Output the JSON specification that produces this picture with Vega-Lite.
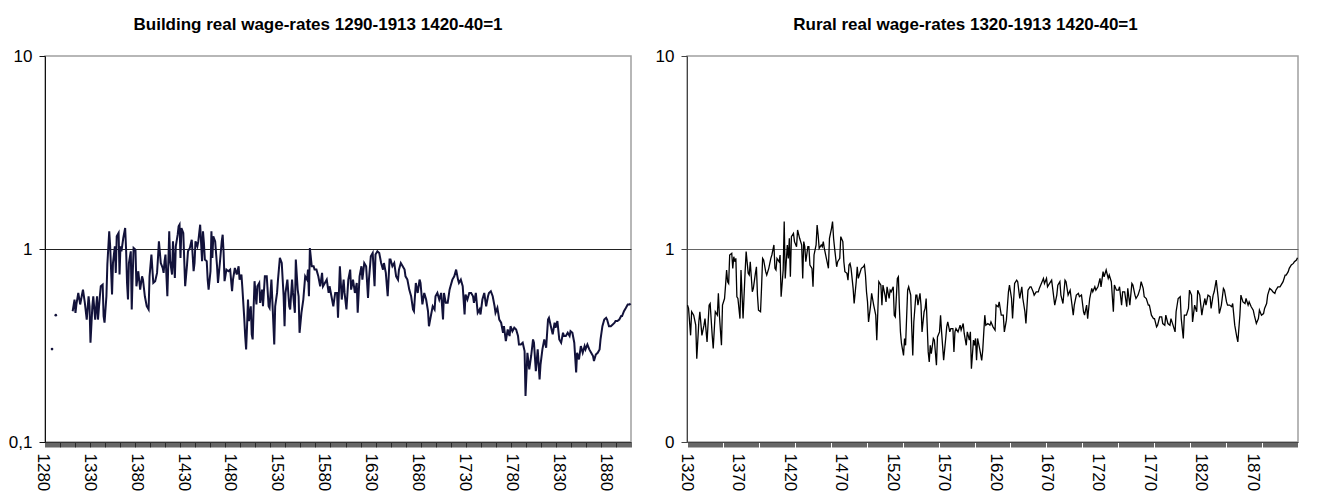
{
"$schema":"https://vega.github.io/schema/vega-lite/v6.json",
"background":"white",
"padding":{"left":7,"top":15,"right":0,"bottom":0},
"spacing":56,
"bounds":"flush",
"config":{
"font":"Liberation Sans",
"view":{"stroke":"#a0a0a0","strokeWidth":1.5},
"axis":{"labelFont":"Liberation Sans","labelFontSize":17,"labelColor":"#000","title":null},
"title":{"font":"Liberation Sans","fontSize":17,"fontWeight":"bold","color":"#000","anchor":"middle","offset":13}
},
"datasets":{
"building":[
{"year":1287,"wage":0.303},{"year":1291,"wage":0.454},
{"year":1309,"wage":0.476},{"year":1311,"wage":0.547},{"year":1312,"wage":0.467},{"year":1313,"wage":0.516},{"year":1315,"wage":0.592},{"year":1317,"wage":0.516},{"year":1319,"wage":0.581},{"year":1320,"wage":0.616},{"year":1322,"wage":0.526},{"year":1324,"wage":0.431},{"year":1326,"wage":0.569},{"year":1327,"wage":0.505},{"year":1328,"wage":0.327},{"year":1330,"wage":0.505},{"year":1331,"wage":0.569},{"year":1333,"wage":0.431},{"year":1335,"wage":0.569},{"year":1336,"wage":0.431},{"year":1338,"wage":0.569},{"year":1339,"wage":0.641},{"year":1341,"wage":0.654},{"year":1342,"wage":0.449},{"year":1343,"wage":0.415},{"year":1345,"wage":0.569},{"year":1346,"wage":0.83},{"year":1348,"wage":1.234},{"year":1349,"wage":1.032},{"year":1351,"wage":0.581},{"year":1352,"wage":0.846},{"year":1354,"wage":1.032},{"year":1355,"wage":0.752},{"year":1356,"wage":1.163},{"year":1358,"wage":1.21},{"year":1359,"wage":0.737},{"year":1360,"wage":1.032},{"year":1361,"wage":0.973},{"year":1363,"wage":1.14},{"year":1365,"wage":1.284},{"year":1366,"wage":0.992},{"year":1367,"wage":0.667},{"year":1368,"wage":0.547},{"year":1369,"wage":0.846},{"year":1371,"wage":0.973},{"year":1372,"wage":0.486},{"year":1373,"wage":0.722},{"year":1374,"wage":1.012},{"year":1376,"wage":0.992},{"year":1377,"wage":0.641},{"year":1379,"wage":0.767},{"year":1381,"wage":0.616},{"year":1383,"wage":0.722},{"year":1384,"wage":0.694},{"year":1386,"wage":0.569},{"year":1388,"wage":0.505},{"year":1390,"wage":0.486},{"year":1391,"wage":0.722},{"year":1393,"wage":0.935},{"year":1395,"wage":0.667},{"year":1397,"wage":0.681},{"year":1399,"wage":0.752},{"year":1400,"wage":0.899},{"year":1401,"wage":1.095},{"year":1403,"wage":0.846},{"year":1405,"wage":0.798},{"year":1406,"wage":0.752},{"year":1407,"wage":0.864},{"year":1408,"wage":0.935},{"year":1410,"wage":0.569},{"year":1412,"wage":1.234},{"year":1413,"wage":0.864},{"year":1415,"wage":0.737},{"year":1416,"wage":1.095},{"year":1417,"wage":0.864},{"year":1418,"wage":0.708},{"year":1419,"wage":1.032},{"year":1421,"wage":1.186},{"year":1422,"wage":1.31},{"year":1423,"wage":1.336},{"year":1424,"wage":0.899},{"year":1425,"wage":1.284},{"year":1427,"wage":1.21},{"year":1429,"wage":0.641},{"year":1431,"wage":0.83},{"year":1432,"wage":0.973},{"year":1434,"wage":1.012},{"year":1436,"wage":1.117},{"year":1438,"wage":0.767},{"year":1439,"wage":0.846},{"year":1440,"wage":1.095},{"year":1442,"wage":1.032},{"year":1443,"wage":1.095},{"year":1445,"wage":1.336},{"year":1447,"wage":0.864},{"year":1448,"wage":1.234},{"year":1449,"wage":1.074},{"year":1450,"wage":0.881},{"year":1452,"wage":0.864},{"year":1453,"wage":0.694},{"year":1454,"wage":0.616},{"year":1456,"wage":0.767},{"year":1457,"wage":1.234},{"year":1458,"wage":0.899},{"year":1459,"wage":1.163},{"year":1461,"wage":1.095},{"year":1463,"wage":0.814},{"year":1464,"wage":0.667},{"year":1466,"wage":0.846},{"year":1468,"wage":1.095},{"year":1469,"wage":1.186},{"year":1470,"wage":0.953},{"year":1471,"wage":0.681},{"year":1473,"wage":0.782},{"year":1475,"wage":0.767},{"year":1477,"wage":0.782},{"year":1479,"wage":0.604},{"year":1480,"wage":0.694},{"year":1482,"wage":0.798},{"year":1484,"wage":0.737},{"year":1486,"wage":0.814},{"year":1487,"wage":0.694},{"year":1489,"wage":0.737},{"year":1490,"wage":0.629},{"year":1492,"wage":0.44},{"year":1493,"wage":0.354},{"year":1494,"wage":0.302},{"year":1495,"wage":0.398},{"year":1496,"wage":0.547},{"year":1497,"wage":0.423},{"year":1499,"wage":0.505},{"year":1500,"wage":0.361},{"year":1501,"wage":0.34},{"year":1502,"wage":0.495},{"year":1503,"wage":0.681},{"year":1505,"wage":0.516},{"year":1506,"wage":0.641},{"year":1508,"wage":0.667},{"year":1509,"wage":0.526},{"year":1511,"wage":0.616},{"year":1512,"wage":0.505},{"year":1514,"wage":0.722},{"year":1516,"wage":0.722},{"year":1518,"wage":0.505},{"year":1519,"wage":0.495},{"year":1521,"wage":0.694},{"year":1523,"wage":0.415},{"year":1524,"wage":0.32},{"year":1525,"wage":0.505},{"year":1527,"wage":0.592},{"year":1528,"wage":0.694},{"year":1530,"wage":0.899},{"year":1532,"wage":0.846},{"year":1534,"wage":0.569},{"year":1535,"wage":0.398},{"year":1536,"wage":0.592},{"year":1538,"wage":0.694},{"year":1540,"wage":0.505},{"year":1541,"wage":0.486},{"year":1543,"wage":0.694},{"year":1544,"wage":0.592},{"year":1546,"wage":0.467},{"year":1547,"wage":0.881},{"year":1549,"wage":0.616},{"year":1550,"wage":0.569},{"year":1551,"wage":0.368},{"year":1553,"wage":0.467},{"year":1555,"wage":0.547},{"year":1557,"wage":0.722},{"year":1559,"wage":0.694},{"year":1560,"wage":0.782},{"year":1561,"wage":0.569},{"year":1562,"wage":1.012},{"year":1564,"wage":0.814},{"year":1566,"wage":0.814},{"year":1567,"wage":0.782},{"year":1569,"wage":0.782},{"year":1571,"wage":0.722},{"year":1573,"wage":0.641},{"year":1575,"wage":0.752},{"year":1576,"wage":0.641},{"year":1578,"wage":0.667},{"year":1580,"wage":0.694},{"year":1582,"wage":0.592},{"year":1583,"wage":0.641},{"year":1585,"wage":0.569},{"year":1587,"wage":0.505},{"year":1589,"wage":0.592},{"year":1591,"wage":0.592},{"year":1592,"wage":0.44},
{"year":1594,"wage":0.814},{"year":1596,"wage":0.547},{"year":1598,"wage":0.694},{"year":1599,"wage":0.592},{"year":1601,"wage":0.486},{"year":1603,"wage":0.694},{"year":1605,"wage":0.782},{"year":1606,"wage":0.616},{"year":1608,"wage":0.694},{"year":1610,"wage":0.592},{"year":1612,"wage":0.667},{"year":1613,"wage":0.467},{"year":1615,"wage":0.722},{"year":1617,"wage":0.814},{"year":1618,"wage":0.694},{"year":1620,"wage":0.846},{"year":1622,"wage":0.814},{"year":1624,"wage":0.558},{"year":1625,"wage":0.694},{"year":1627,"wage":0.916},{"year":1629,"wage":0.953},{"year":1631,"wage":0.641},{"year":1632,"wage":0.935},{"year":1634,"wage":0.973},{"year":1636,"wage":0.953},{"year":1638,"wage":0.846},{"year":1640,"wage":0.782},{"year":1641,"wage":0.846},{"year":1643,"wage":0.752},{"year":1645,"wage":0.569},{"year":1647,"wage":0.881},{"year":1648,"wage":0.881},{"year":1650,"wage":0.814},{"year":1652,"wage":0.846},{"year":1654,"wage":0.722},{"year":1656,"wage":0.694},{"year":1657,"wage":0.782},{"year":1659,"wage":0.846},{"year":1661,"wage":0.814},{"year":1663,"wage":0.782},{"year":1664,"wage":0.722},{"year":1666,"wage":0.694},{"year":1668,"wage":0.616},{"year":1670,"wage":0.569},{"year":1672,"wage":0.486},{"year":1673,"wage":0.476},{"year":1675,"wage":0.667},{"year":1677,"wage":0.592},{"year":1679,"wage":0.694},{"year":1680,"wage":0.667},{"year":1682,"wage":0.516},{"year":1684,"wage":0.592},{"year":1686,"wage":0.547},{"year":1688,"wage":0.476},{"year":1689,"wage":0.398},{"year":1691,"wage":0.449},{"year":1693,"wage":0.505},{"year":1695,"wage":0.486},{"year":1696,"wage":0.569},{"year":1698,"wage":0.592},{"year":1700,"wage":0.547},{"year":1702,"wage":0.592},{"year":1704,"wage":0.431},{"year":1705,"wage":0.592},{"year":1707,"wage":0.526},{"year":1709,"wage":0.526},{"year":1711,"wage":0.616},{"year":1712,"wage":0.641},{"year":1714,"wage":0.694},{"year":1716,"wage":0.722},{"year":1718,"wage":0.782},{"year":1720,"wage":0.694},{"year":1721,"wage":0.667},{"year":1723,"wage":0.694},{"year":1725,"wage":0.641},{"year":1727,"wage":0.458},{"year":1728,"wage":0.581},{"year":1730,"wage":0.547},{"year":1732,"wage":0.592},{"year":1734,"wage":0.592},{"year":1736,"wage":0.569},{"year":1737,"wage":0.526},{"year":1739,"wage":0.592},{"year":1741,"wage":0.467},{"year":1743,"wage":0.486},{"year":1744,"wage":0.458},{"year":1746,"wage":0.547},{"year":1748,"wage":0.592},{"year":1750,"wage":0.505},{"year":1752,"wage":0.569},{"year":1753,"wage":0.592},{"year":1755,"wage":0.604},{"year":1757,"wage":0.569},{"year":1759,"wage":0.505},{"year":1760,"wage":0.467},{"year":1762,"wage":0.495},{"year":1764,"wage":0.431},{"year":1766,"wage":0.415},{"year":1768,"wage":0.368},{"year":1769,"wage":0.398},{"year":1771,"wage":0.333},{"year":1773,"wage":0.383},{"year":1775,"wage":0.354},{"year":1776,"wage":0.398},{"year":1778,"wage":0.375},{"year":1780,"wage":0.391},{"year":1782,"wage":0.383},{"year":1784,"wage":0.354},{"year":1785,"wage":0.32},{"year":1787,"wage":0.32},{"year":1789,"wage":0.327},{"year":1791,"wage":0.296},{"year":1792,"wage":0.173},{"year":1794,"wage":0.29},{"year":1796,"wage":0.238},{"year":1798,"wage":0.279},{"year":1800,"wage":0.34},{"year":1801,"wage":0.327},{"year":1803,"wage":0.233},{"year":1805,"wage":0.302},{"year":1807,"wage":0.211},{"year":1808,"wage":0.252},{"year":1810,"wage":0.302},{"year":1812,"wage":0.34},{"year":1814,"wage":0.308},{"year":1816,"wage":0.431},{"year":1817,"wage":0.44},{"year":1819,"wage":0.398},{"year":1821,"wage":0.361},{"year":1823,"wage":0.415},{"year":1824,"wage":0.391},{"year":1826,"wage":0.423},{"year":1828,"wage":0.34},{"year":1830,"wage":0.327},{"year":1832,"wage":0.368},{"year":1833,"wage":0.354},{"year":1835,"wage":0.354},{"year":1837,"wage":0.368},{"year":1839,"wage":0.354},{"year":1840,"wage":0.375},{"year":1842,"wage":0.368},{"year":1844,"wage":0.327},{"year":1846,"wage":0.229},{"year":1847,"wage":0.29},{"year":1849,"wage":0.268},{"year":1851,"wage":0.314},{"year":1853,"wage":0.29},{"year":1855,"wage":0.314},{"year":1856,"wage":0.302},{"year":1858,"wage":0.32},{"year":1860,"wage":0.302},{"year":1862,"wage":0.29},{"year":1864,"wage":0.279},{"year":1865,"wage":0.263},{"year":1867,"wage":0.284},{"year":1869,"wage":0.29},{"year":1871,"wage":0.302},{"year":1872,"wage":0.34},{"year":1874,"wage":0.398},{"year":1876,"wage":0.431},{"year":1878,"wage":0.44},{"year":1879,"wage":0.431},{"year":1881,"wage":0.398},{"year":1883,"wage":0.398},{"year":1885,"wage":0.406},{"year":1887,"wage":0.415},{"year":1888,"wage":0.423},{"year":1890,"wage":0.423},{"year":1892,"wage":0.431},{"year":1894,"wage":0.449},{"year":1895,"wage":0.449},{"year":1897,"wage":0.476},{"year":1899,"wage":0.495},{"year":1901,"wage":0.516},{"year":1903,"wage":0.516},{"year":1904,"wage":0.522}
],
"rural":[
{"year":1320,"wage":0.512},{"year":1321,"wage":0.492},{"year":1323,"wage":0.357},{"year":1324,"wage":0.473},{"year":1326,"wage":0.454},{"year":1328,"wage":0.403},{"year":1329,"wage":0.27},{"year":1331,"wage":0.419},{"year":1332,"wage":0.473},{"year":1334,"wage":0.357},{"year":1336,"wage":0.403},{"year":1337,"wage":0.436},{"year":1339,"wage":0.33},{"year":1341,"wage":0.512},{"year":1342,"wage":0.522},{"year":1344,"wage":0.357},{"year":1345,"wage":0.305},{"year":1347,"wage":0.473},{"year":1349,"wage":0.454},{"year":1350,"wage":0.589},{"year":1351,"wage":0.454},{"year":1353,"wage":0.317},{"year":1354,"wage":0.512},{"year":1356,"wage":0.554},{"year":1357,"wage":0.65},{"year":1358,"wage":0.778},{"year":1359,"wage":0.677},{"year":1360,"wage":0.663},{"year":1361,"wage":0.931},{"year":1363,"wage":0.95},{"year":1364,"wage":0.794},{"year":1365,"wage":0.912},{"year":1366,"wage":0.859},{"year":1367,"wage":0.894},{"year":1368,"wage":0.566},{"year":1369,"wage":0.554},{"year":1371,"wage":0.436},{"year":1372,"wage":0.778},{"year":1374,"wage":0.436},{"year":1376,"wage":0.763},{"year":1377,"wage":0.969},{"year":1379,"wage":0.748},{"year":1380,"wage":0.733},{"year":1381,"wage":0.859},{"year":1383,"wage":0.6},{"year":1384,"wage":0.625},{"year":1386,"wage":0.748},{"year":1387,"wage":0.809},{"year":1388,"wage":0.577},{"year":1389,"wage":0.482},{"year":1391,"wage":0.473},{"year":1392,"wage":0.637},{"year":1393,"wage":0.894},{"year":1394,"wage":0.877},{"year":1396,"wage":0.763},{"year":1397,"wage":0.733},{"year":1399,"wage":0.794},{"year":1400,"wage":0.842},{"year":1401,"wage":0.894},{"year":1402,"wage":0.931},{"year":1404,"wage":1.049},{"year":1405,"wage":0.794},{"year":1406,"wage":0.778},{"year":1407,"wage":0.894},{"year":1409,"wage":0.859},{"year":1410,"wage":0.931},{"year":1411,"wage":0.566},{"year":1413,"wage":0.778},{"year":1414,"wage":1.387},{"year":1415,"wage":0.704},{"year":1417,"wage":1.049},{"year":1418,"wage":0.894},{"year":1419,"wage":1.136},{"year":1420,"wage":0.718},{"year":1421,"wage":1.159},{"year":1423,"wage":1.206},{"year":1424,"wage":1.092},{"year":1426,"wage":1.028},{"year":1427,"wage":1.255},{"year":1429,"wage":1.136},{"year":1431,"wage":1.049},{"year":1432,"wage":0.704},{"year":1433,"wage":1.092},{"year":1434,"wage":1.028},{"year":1435,"wage":0.859},{"year":1437,"wage":1.028},{"year":1438,"wage":1.028},{"year":1439,"wage":0.826},{"year":1441,"wage":0.794},{"year":1442,"wage":0.637},{"year":1443,"wage":0.931},{"year":1445,"wage":1.049},{"year":1446,"wage":1.332},{"year":1447,"wage":1.182},{"year":1448,"wage":1.008},{"year":1450,"wage":1.049},{"year":1451,"wage":1.028},{"year":1452,"wage":1.092},{"year":1453,"wage":1.008},{"year":1455,"wage":0.894},{"year":1457,"wage":0.794},{"year":1458,"wage":1.136},{"year":1460,"wage":1.28},{"year":1461,"wage":1.387},{"year":1462,"wage":1.136},{"year":1463,"wage":1.008},{"year":1465,"wage":0.809},{"year":1466,"wage":0.859},{"year":1468,"wage":0.894},{"year":1469,"wage":1.159},{"year":1471,"wage":1.092},{"year":1472,"wage":0.859},{"year":1473,"wage":0.763},{"year":1475,"wage":0.748},{"year":1476,"wage":0.69},{"year":1477,"wage":0.826},{"year":1478,"wage":0.842},{"year":1479,"wage":0.794},{"year":1481,"wage":0.625},{"year":1482,"wage":0.522},{"year":1484,"wage":0.677},{"year":1485,"wage":0.809},{"year":1486,"wage":0.704},{"year":1487,"wage":0.733},{"year":1489,"wage":0.794},{"year":1491,"wage":0.809},{"year":1492,"wage":0.826},{"year":1493,"wage":0.733},{"year":1494,"wage":0.6},{"year":1495,"wage":0.532},{"year":1496,"wage":0.419},{"year":1498,"wage":0.512},{"year":1499,"wage":0.589},{"year":1501,"wage":0.512},{"year":1503,"wage":0.454},{"year":1504,"wage":0.337},{"year":1505,"wage":0.473},{"year":1506,"wage":0.677},{"year":1508,"wage":0.65},{"year":1509,"wage":0.512},{"year":1510,"wage":0.65},{"year":1512,"wage":0.577},{"year":1513,"wage":0.532},{"year":1514,"wage":0.637},{"year":1516,"wage":0.554},{"year":1517,"wage":0.612},{"year":1518,"wage":0.6},{"year":1520,"wage":0.637},{"year":1521,"wage":0.454},{"year":1522,"wage":0.445},{"year":1524,"wage":0.704},{"year":1525,"wage":0.718},{"year":1526,"wage":0.492},{"year":1527,"wage":0.372},{"year":1528,"wage":0.324},{"year":1530,"wage":0.281},{"year":1531,"wage":0.344},{"year":1532,"wage":0.317},{"year":1534,"wage":0.612},{"year":1535,"wage":0.637},{"year":1537,"wage":0.577},{"year":1538,"wage":0.387},{"year":1539,"wage":0.281},{"year":1540,"wage":0.419},{"year":1542,"wage":0.577},{"year":1543,"wage":0.577},{"year":1544,"wage":0.512},{"year":1546,"wage":0.589},{"year":1547,"wage":0.512},{"year":1548,"wage":0.372},{"year":1550,"wage":0.473},{"year":1551,"wage":0.492},{"year":1552,"wage":0.554},{"year":1554,"wage":0.293},{"year":1555,"wage":0.26},{"year":1556,"wage":0.317},{"year":1557,"wage":0.287},{"year":1559,"wage":0.344},{"year":1560,"wage":0.337},{"year":1562,"wage":0.25},{"year":1563,"wage":0.35},{"year":1565,"wage":0.372},{"year":1566,"wage":0.454},{"year":1567,"wage":0.372},{"year":1569,"wage":0.265},{"year":1571,"wage":0.344},{"year":1572,"wage":0.395},{"year":1573,"wage":0.419},{"year":1575,"wage":0.372},{"year":1576,"wage":0.387},{"year":1578,"wage":0.387},{"year":1579,"wage":0.293},{"year":1580,"wage":0.372},{"year":1581,"wage":0.387},{"year":1583,"wage":0.372},{"year":1585,"wage":0.403},{"year":1586,"wage":0.38},{"year":1588,"wage":0.411},{"year":1589,"wage":0.365},{"year":1591,"wage":0.317},{"year":1592,"wage":0.372},{"year":1594,"wage":0.337},{"year":1595,"wage":0.372},{"year":1596,"wage":0.24},{"year":1598,"wage":0.337},{"year":1599,"wage":0.317},{"year":1600,"wage":0.344},{"year":1601,"wage":0.265},
{"year":1602,"wage":0.344},{"year":1604,"wage":0.305},{"year":1606,"wage":0.265},{"year":1607,"wage":0.299},{"year":1609,"wage":0.454},{"year":1610,"wage":0.403},{"year":1612,"wage":0.411},{"year":1614,"wage":0.403},{"year":1615,"wage":0.419},{"year":1617,"wage":0.395},{"year":1619,"wage":0.38},{"year":1620,"wage":0.512},{"year":1622,"wage":0.502},{"year":1623,"wage":0.532},{"year":1625,"wage":0.454},{"year":1627,"wage":0.454},{"year":1628,"wage":0.372},{"year":1630,"wage":0.428},{"year":1632,"wage":0.6},{"year":1633,"wage":0.65},{"year":1635,"wage":0.554},{"year":1636,"wage":0.436},{"year":1638,"wage":0.663},{"year":1640,"wage":0.69},{"year":1641,"wage":0.677},{"year":1643,"wage":0.554},{"year":1645,"wage":0.637},{"year":1646,"wage":0.554},{"year":1648,"wage":0.473},{"year":1649,"wage":0.411},{"year":1651,"wage":0.612},{"year":1653,"wage":0.637},{"year":1654,"wage":0.637},{"year":1656,"wage":0.6},{"year":1657,"wage":0.577},{"year":1659,"wage":0.6},{"year":1661,"wage":0.6},{"year":1662,"wage":0.625},{"year":1664,"wage":0.663},{"year":1666,"wage":0.704},{"year":1667,"wage":0.663},{"year":1669,"wage":0.704},{"year":1670,"wage":0.637},{"year":1672,"wage":0.663},{"year":1674,"wage":0.69},{"year":1675,"wage":0.625},{"year":1677,"wage":0.512},{"year":1679,"wage":0.577},{"year":1680,"wage":0.65},{"year":1682,"wage":0.677},{"year":1683,"wage":0.577},{"year":1685,"wage":0.522},{"year":1687,"wage":0.69},{"year":1688,"wage":0.677},{"year":1690,"wage":0.577},{"year":1692,"wage":0.612},{"year":1693,"wage":0.554},{"year":1695,"wage":0.454},{"year":1696,"wage":0.512},{"year":1698,"wage":0.577},{"year":1700,"wage":0.589},{"year":1701,"wage":0.566},{"year":1703,"wage":0.577},{"year":1705,"wage":0.473},{"year":1706,"wage":0.454},{"year":1708,"wage":0.512},{"year":1709,"wage":0.436},{"year":1711,"wage":0.554},{"year":1713,"wage":0.625},{"year":1714,"wage":0.6},{"year":1716,"wage":0.637},{"year":1717,"wage":0.612},{"year":1719,"wage":0.637},{"year":1721,"wage":0.704},{"year":1722,"wage":0.637},{"year":1724,"wage":0.763},{"year":1725,"wage":0.718},{"year":1727,"wage":0.778},{"year":1729,"wage":0.704},{"year":1730,"wage":0.733},{"year":1732,"wage":0.677},{"year":1734,"wage":0.473},{"year":1735,"wage":0.65},{"year":1737,"wage":0.612},{"year":1739,"wage":0.612},{"year":1740,"wage":0.637},{"year":1742,"wage":0.512},{"year":1743,"wage":0.6},{"year":1745,"wage":0.6},{"year":1747,"wage":0.502},{"year":1748,"wage":0.625},{"year":1750,"wage":0.512},{"year":1752,"wage":0.663},{"year":1753,"wage":0.65},{"year":1755,"wage":0.577},{"year":1756,"wage":0.554},{"year":1758,"wage":0.577},{"year":1760,"wage":0.625},{"year":1761,"wage":0.677},{"year":1763,"wage":0.625},{"year":1764,"wage":0.566},{"year":1766,"wage":0.554},{"year":1768,"wage":0.512},{"year":1769,"wage":0.512},{"year":1771,"wage":0.454},{"year":1773,"wage":0.436},{"year":1774,"wage":0.436},{"year":1776,"wage":0.395},{"year":1777,"wage":0.403},{"year":1779,"wage":0.445},{"year":1781,"wage":0.445},{"year":1782,"wage":0.411},{"year":1784,"wage":0.403},{"year":1785,"wage":0.454},{"year":1787,"wage":0.411},{"year":1789,"wage":0.403},{"year":1790,"wage":0.436},{"year":1792,"wage":0.403},{"year":1794,"wage":0.372},{"year":1795,"wage":0.473},{"year":1797,"wage":0.554},{"year":1799,"wage":0.566},{"year":1800,"wage":0.436},{"year":1802,"wage":0.344},{"year":1803,"wage":0.454},{"year":1805,"wage":0.454},{"year":1807,"wage":0.492},{"year":1808,"wage":0.612},{"year":1810,"wage":0.577},{"year":1811,"wage":0.419},{"year":1813,"wage":0.512},{"year":1815,"wage":0.473},{"year":1816,"wage":0.612},{"year":1818,"wage":0.577},{"year":1820,"wage":0.454},{"year":1821,"wage":0.492},{"year":1823,"wage":0.554},{"year":1824,"wage":0.512},{"year":1826,"wage":0.577},{"year":1828,"wage":0.566},{"year":1829,"wage":0.492},{"year":1831,"wage":0.577},{"year":1832,"wage":0.6},{"year":1834,"wage":0.69},{"year":1836,"wage":0.554},{"year":1837,"wage":0.463},{"year":1839,"wage":0.512},{"year":1841,"wage":0.625},{"year":1842,"wage":0.612},{"year":1844,"wage":0.532},{"year":1845,"wage":0.512},{"year":1847,"wage":0.512},{"year":1849,"wage":0.502},{"year":1850,"wage":0.522},{"year":1852,"wage":0.403},{"year":1854,"wage":0.35},{"year":1855,"wage":0.33},{"year":1857,"wage":0.454},{"year":1858,"wage":0.577},{"year":1860,"wage":0.532},{"year":1862,"wage":0.522},{"year":1863,"wage":0.554},{"year":1865,"wage":0.512},{"year":1866,"wage":0.532},{"year":1868,"wage":0.502},{"year":1870,"wage":0.482},{"year":1871,"wage":0.454},{"year":1873,"wage":0.411},{"year":1875,"wage":0.436},{"year":1876,"wage":0.482},{"year":1878,"wage":0.454},{"year":1880,"wage":0.463},{"year":1881,"wage":0.492},{"year":1883,"wage":0.522},{"year":1884,"wage":0.577},{"year":1886,"wage":0.625},{"year":1888,"wage":0.612},{"year":1889,"wage":0.6},{"year":1891,"wage":0.589},{"year":1892,"wage":0.612},{"year":1894,"wage":0.637},{"year":1896,"wage":0.637},{"year":1897,"wage":0.65},{"year":1899,"wage":0.677},{"year":1901,"wage":0.733},{"year":1902,"wage":0.733},{"year":1904,"wage":0.763},{"year":1905,"wage":0.794},{"year":1907,"wage":0.826},{"year":1909,"wage":0.842},{"year":1910,"wage":0.859},{"year":1912,"wage":0.877},{"year":1913,"wage":0.901}
]
},
"hconcat":[
{
"width":586,"height":386,
"title":{"text":"Building real wage-rates 1290-1913 1420-40=1","dx":-20},
"data":{"name":"building"},
"encoding":{
"x":{"field":"year","type":"quantitative","scale":{"domain":[1279.5,1904.5],"nice":false,"zero":false},
"axis":{"tickCount":625,"format":"d","labelExpr":"datum.value % 50 === 30 ? datum.label : ''","labelAngle":90,"labelOverlap":false,"labelFlush":false,"labelBound":false,"labelOffset":-3,"tickSize":5,"tickWidth":0.6,"tickColor":"#000","domainColor":"#333","labelPadding":6,"grid":false}},
"y":{"field":"wage","type":"quantitative","scale":{"type":"log","domain":[0.1,10],"nice":false},
"axis":{"values":[0.1,1,10],"labelExpr":"datum.value < 0.5 ? '0,1' : (datum.value < 5 ? '1' : '10')","tickSize":6,"tickColor":"#111","domainColor":"#111","labelPadding":7,"grid":true,"gridColor":"#222","gridOpacity":{"condition":{"test":"datum.value > 0.5 && datum.value < 5","value":1},"value":0}}}
},
"layer":[
{"transform":[{"filter":"datum.year >= 1300"}],"mark":{"type":"line","color":"#12123a","strokeWidth":2}},
{"transform":[{"filter":"datum.year < 1300"}],"mark":{"type":"point","filled":true,"size":7,"opacity":1,"color":"#12123a"}}
]
},
{
"width":611,"height":386,
"title":{"text":"Rural real wage-rates 1320-1913 1420-40=1","dx":-27},
"data":{"name":"rural"},
"mark":{"type":"line","color":"#000","strokeWidth":1.3},
"encoding":{
"x":{"field":"year","type":"quantitative","scale":{"domain":[1319.5,1913.5],"nice":false,"zero":false},
"axis":{"tickCount":594,"format":"d","labelExpr":"datum.value % 50 === 20 ? datum.label : ''","labelAngle":90,"labelOverlap":false,"labelFlush":false,"labelBound":false,"labelOffset":-1,"tickSize":5,"tickWidth":0.6,"tickColor":"#000","domainColor":"#444","labelPadding":6,"grid":false}},
"y":{"field":"wage","type":"quantitative","scale":{"type":"log","domain":[0.1,10],"nice":false},
"axis":{"values":[0.1,1,10],"labelExpr":"datum.value < 0.5 ? '0' : (datum.value < 5 ? '1' : '10')","tickSize":6,"tickColor":"#444","domainColor":"#444","labelPadding":7,"grid":true,"gridColor":"#666","gridOpacity":{"condition":{"test":"datum.value > 0.5 && datum.value < 5","value":1},"value":0}}}
}
}
]
}
